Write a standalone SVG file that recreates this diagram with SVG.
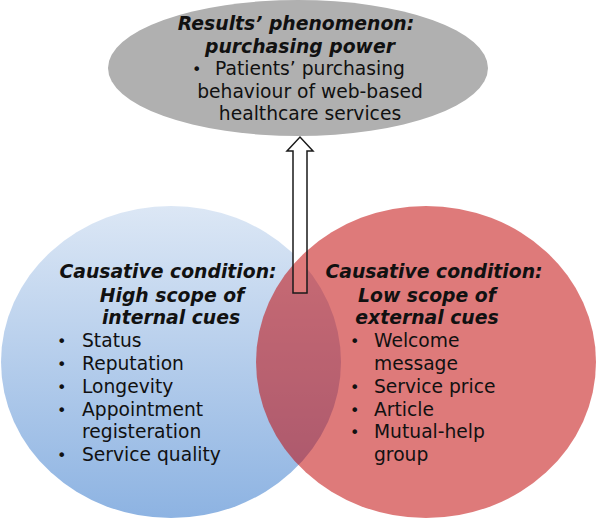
<svg xmlns="http://www.w3.org/2000/svg" width="597" height="522" viewBox="0 0 597 522">
<defs>
<linearGradient id="blueGrad" x1="0" y1="0" x2="0" y2="1">
<stop offset="0" stop-color="#dce7f5"/>
<stop offset="1" stop-color="#8db3e2"/>
</linearGradient>
<path id="arrowShape" d="M293,293 L293,151 L287,151 L300,137 L313,151 L307,151 L307,293 Z"/>
</defs>
<style>
text{font-family:"DejaVu Sans","Noto Sans",sans-serif;fill:#111;}
.h{font-weight:bold;font-style:italic;font-size:18.8px;text-anchor:middle;}
.t{font-size:18.7px;}
.tc{font-size:18.7px;text-anchor:middle;}
.b{font-size:16px;}
</style>
<g id="results">
<ellipse cx="298" cy="68" rx="190" ry="68" fill="#b0b0b0"/>
<text class="h" x="296" y="30">Results’ phenomenon:</text>
<text class="h" x="300" y="53">purchasing power</text>
<text class="b" x="192" y="75">•</text>
<text class="t" x="215" y="75">Patients’ purchasing</text>
<text class="tc" x="310" y="98">behaviour of web-based</text>
<text class="tc" x="310" y="120">healthcare services</text>
</g>
<g id="internal">
<ellipse cx="171" cy="362" rx="170" ry="156" fill="url(#blueGrad)"/>
<use href="#arrowShape" fill="#fff"/>
</g>
<g id="external">
<ellipse cx="426" cy="362" rx="170" ry="156" fill="#c00000" fill-opacity="0.52"/>
</g>
<g id="connectors">
<use href="#arrowShape" fill="none" stroke="#1a1a1a" stroke-width="1.5"/>
</g>
<g id="internal-text">
<text class="h" x="168" y="278">Causative condition:</text>
<text class="h" x="172" y="302">High scope of</text>
<text class="h" x="171" y="324">internal cues</text>
<text class="b" x="57" y="347">•</text><text class="t" x="82" y="347">Status</text>
<text class="b" x="57" y="370">•</text><text class="t" x="82" y="370">Reputation</text>
<text class="b" x="57" y="393">•</text><text class="t" x="82" y="393">Longevity</text>
<text class="b" x="57" y="416">•</text><text class="t" x="82" y="416">Appointment</text>
<text class="t" x="82" y="438">registeration</text>
<text class="b" x="57" y="461">•</text><text class="t" x="82" y="461">Service quality</text>
</g>
<g id="external-text">
<text class="h" x="434" y="278">Causative condition:</text>
<text class="h" x="427" y="302">Low scope of</text>
<text class="h" x="427" y="324">external cues</text>
<text class="b" x="350" y="347">•</text><text class="t" x="374" y="347">Welcome</text>
<text class="t" x="374" y="370">message</text>
<text class="b" x="350" y="393">•</text><text class="t" x="374" y="393">Service price</text>
<text class="b" x="350" y="416">•</text><text class="t" x="374" y="416">Article</text>
<text class="b" x="350" y="438">•</text><text class="t" x="374" y="438">Mutual-help</text>
<text class="t" x="374" y="461">group</text>
</g>
</svg>
